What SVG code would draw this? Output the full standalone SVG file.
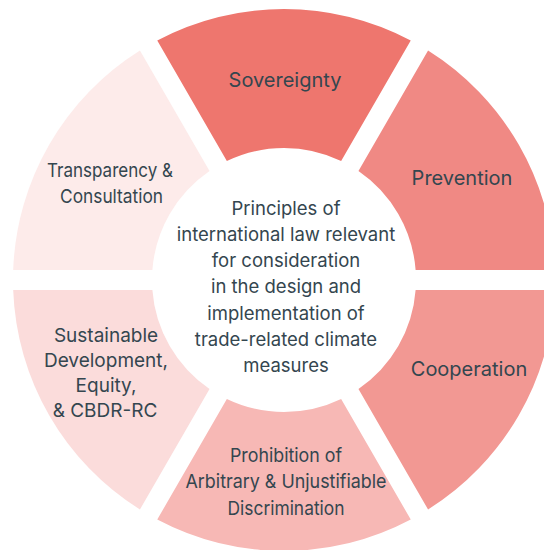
<svg xmlns="http://www.w3.org/2000/svg" width="544" height="550" viewBox="0 0 544 550">
<style>
.lbl{font-family:Inter,"Open Sans","Liberation Sans",sans-serif;font-size:19px;fill:#34464f;text-anchor:middle}
.big{font-size:20px}
.ctr{font-size:18.5px}
</style>
<rect width="544" height="550" fill="#ffffff"/>
<g id="sovereignty">
<path d="M157.25,40.47 A271,271 0 0 1 410.75,40.47 L341.15,161.01 A132,132 0 0 0 226.85,161.01 Z" fill="#EE766E"/>
<text class="lbl big" x="285" y="87">Sovereignty</text>
</g>
<g id="prevention">
<path d="M428.07,50.47 A271,271 0 0 1 554.82,270 L415.62,270 A132,132 0 0 0 358.47,171.01 Z" fill="#F08984"/>
<text class="lbl big" x="462" y="185">Prevention</text>
</g>
<g id="cooperation">
<path d="M554.82,290 A271,271 0 0 1 428.07,509.53 L358.47,388.99 A132,132 0 0 0 415.62,290 Z" fill="#F29893"/>
<text class="lbl big" x="469" y="376">Cooperation</text>
</g>
<g id="prohibition">
<path d="M410.75,519.53 A271,271 0 0 1 157.25,519.53 L226.85,398.99 A132,132 0 0 0 341.15,398.99 Z" fill="#F7B8B5"/>
<text class="lbl" x="286" y="462" textLength="112" lengthAdjust="spacingAndGlyphs">Prohibition of</text>
<text class="lbl" x="286" y="488" textLength="201" lengthAdjust="spacingAndGlyphs">Arbitrary &amp; Unjustifiable</text>
<text class="lbl" x="286" y="515" textLength="117" lengthAdjust="spacingAndGlyphs">Discrimination</text>
</g>
<g id="sustainable">
<path d="M139.93,509.53 A271,271 0 0 1 13.18,290 L152.38,290 A132,132 0 0 0 209.53,388.99 Z" fill="#FBDCDB"/>
<text class="lbl" x="106" y="342">Sustainable</text>
<text class="lbl" x="106" y="367">Development,</text>
<text class="lbl" x="106" y="392">Equity,</text>
<text class="lbl" x="105" y="417">&amp; CBDR-RC</text>
</g>
<g id="transparency">
<path d="M13.18,270 A271,271 0 0 1 139.93,50.47 L209.53,171.01 A132,132 0 0 0 152.38,270 Z" fill="#FDEBEA"/>
<text class="lbl" x="110" y="177" textLength="126" lengthAdjust="spacingAndGlyphs">Transparency &amp;</text>
<text class="lbl" x="111.5" y="203" textLength="103" lengthAdjust="spacingAndGlyphs">Consultation</text>
</g>
<g id="center">
<text class="lbl ctr" x="286" y="215">Principles of</text>
<text class="lbl ctr" x="286" y="241">international law relevant</text>
<text class="lbl ctr" x="286" y="267">for consideration</text>
<text class="lbl ctr" x="286" y="293">in the design and</text>
<text class="lbl ctr" x="286" y="320">implementation of</text>
<text class="lbl ctr" x="286" y="346">trade-related climate</text>
<text class="lbl ctr" x="286" y="372">measures</text>
</g>
<g id="connectors"/>
</svg>
